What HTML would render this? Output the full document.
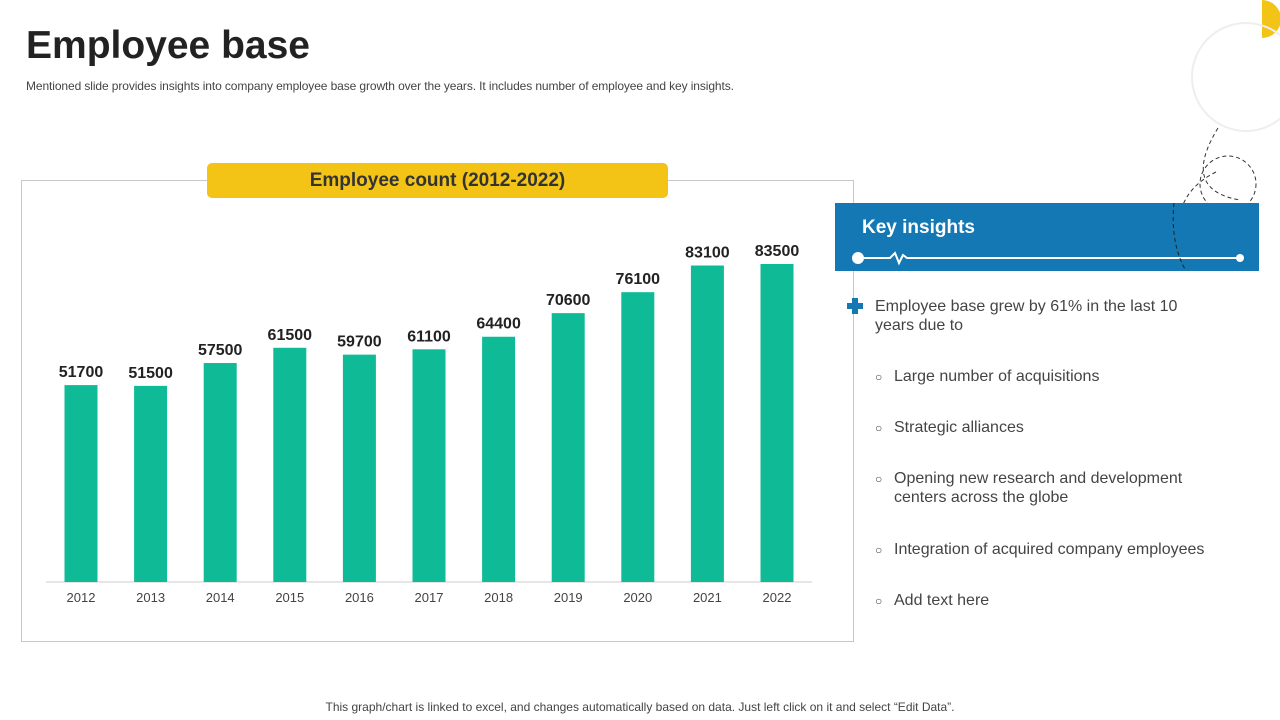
<!DOCTYPE html>
<html><head><meta charset="utf-8"><style>
body{margin:0;width:1280px;height:720px;background:#fff;font-family:"Liberation Sans",sans-serif;position:relative;overflow:hidden}
.abs{position:absolute}
.item{position:absolute;left:894px;font-size:16px;color:#444;line-height:19px}
.item:before{content:"○";position:absolute;left:-19px;font-size:12px;top:1px}
</style></head><body>
<div class="abs" style="left:26px;top:24px;font-size:39px;font-weight:bold;color:#222">Employee base</div>
<div class="abs" style="left:26px;top:79px;font-size:12px;letter-spacing:-0.1px;color:#444">Mentioned slide provides insights into company employee base growth over the years. It includes number of employee and key insights.</div>
<svg class="abs" style="left:0;top:0" width="1280" height="720">
<path d="M1262 0 A19 19 0 0 1 1262 38 Z" fill="#f3c316"/>
<circle cx="1246" cy="77" r="54" fill="none" stroke="#eee" stroke-width="2"/>
<circle cx="1228" cy="184" r="28" fill="none" stroke="#333" stroke-dasharray="4 3"/>
<path d="M1218 128 Q1180 190 1240 200" fill="none" stroke="#333" stroke-dasharray="4 3"/>
<path d="M1216 172 Q1160 200 1188 270" fill="none" stroke="#333" stroke-dasharray="4 3"/>
</svg>
<div class="abs" style="left:21px;top:180px;width:831px;height:460px;border:1px solid #c8c8c8"></div>
<div class="abs" style="left:207px;top:163px;width:461px;height:35px;background:#f3c316;border-radius:5px;text-align:center;line-height:35px;font-size:19px;font-weight:bold;color:#333">Employee count (2012-2022)</div>
<svg id="chart" class="abs" style="left:0;top:0" width="860" height="650"></svg>
<div class="abs" style="left:835px;top:203px;width:424px;height:68px;background:#1478b4">
<div style="position:absolute;left:27px;top:14px;color:#fff;font-weight:bold;font-size:19px">Key insights</div>
<svg width="424" height="68" style="position:absolute;left:0;top:0"><circle cx="23" cy="55" r="6" fill="#fff"/><path d="M29 55H55L60 50L64 60L68 52L72 55H405" stroke="#fff" stroke-width="2" fill="none"/><circle cx="405" cy="55" r="4" fill="#fff"/><path d="M339 0 Q335 40 351 68" stroke="#222" fill="none" stroke-dasharray="4 3"/></svg>
</div>
<svg class="abs" style="left:847px;top:298px" width="16" height="16"><path d="M5 0h6v5h5v6h-5v5h-6v-5h-5v-6h5z" fill="#1478b4"/></svg>
<div class="abs" style="left:875px;top:297px;font-size:16px;color:#444;line-height:19px;width:320px">Employee base grew by 61% in the last 10 years due to</div>
<div class="item" style="top:367px">Large number of acquisitions</div>
<div class="item" style="top:418px">Strategic alliances</div>
<div class="item" style="top:469px;width:310px">Opening new research and development centers across the globe</div>
<div class="item" style="top:540px">Integration of acquired company employees</div>
<div class="item" style="top:591px">Add text here</div>
<div class="abs" style="left:0;width:1280px;top:700px;text-align:center;font-size:12px;color:#444">This graph/chart is linked to excel, and changes automatically based on data. Just left click on it and select “Edit Data”.</div>
<script>
const years=["2012","2013","2014","2015","2016","2017","2018","2019","2020","2021","2022"];
const counts=[51700,51500,57500,61500,59700,61100,64400,70600,76100,83100,83500];
const svg=document.getElementById('chart');
const NS='http://www.w3.org/2000/svg';
const base=582,top0=264,maxV=83500;
const y=v=>base-(v/maxV)*(base-top0);
const x=i=>81+i*69.6;
function mk(t,a){const e=document.createElementNS(NS,t);for(const k in a)e.setAttribute(k,a[k]);svg.appendChild(e);return e;}
const ax=mk('line',{x1:46,x2:812,y1:base,y2:base,stroke:'#ccc'});


counts.forEach((v,i)=>{
 const r=mk('rect',{x:x(i)-16.5,y:y(v),width:33,height:base-y(v),fill:'#0fbb96'});
 
 
 const t=mk('text',{x:x(i),y:y(v)-8,'text-anchor':'middle','font-size':'16','font-weight':'bold',fill:'#222','font-family':'Liberation Sans'});
 t.textContent=v;
 
 
 const l=mk('text',{x:x(i),y:602,'text-anchor':'middle','font-size':'13',fill:'#444','font-family':'Liberation Sans'});
 l.textContent=years[i];
 
 
});
</script>
</body></html>
